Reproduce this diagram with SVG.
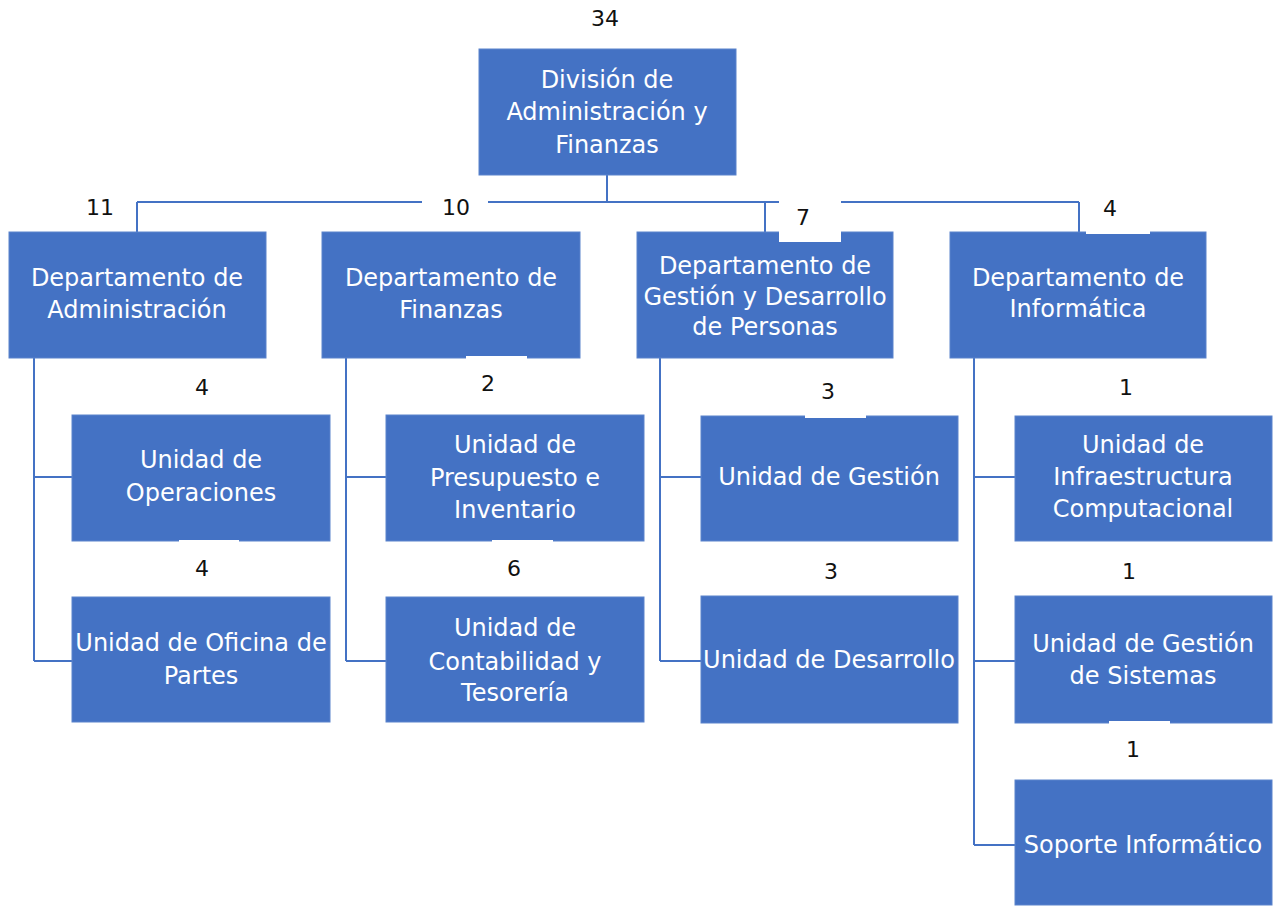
<svg xmlns="http://www.w3.org/2000/svg" width="1277" height="908" viewBox="0 0 1277 908">
<style>
.box{fill:#4472C4;stroke:#5b83cc;stroke-width:1}
.t{font-family:"DejaVu Sans",sans-serif;font-size:24px;fill:#ffffff;text-anchor:middle}
.n{font-family:"DejaVu Sans",sans-serif;font-size:22px;fill:#111111;text-anchor:middle}
.ln{fill:none;stroke:#4472C4;stroke-width:2}
.bg{fill:#ffffff}
</style>
<rect width="1277" height="908" fill="#ffffff"/>
<g id="connectors">
<path class="ln" d="M607,175 V202 M137,202 H1079 M137,202 V232 M765,202 V232 M1079,202 V232"/>
<path class="ln" d="M34,358 V661 M34,477 H72 M34,661 H72"/>
<path class="ln" d="M346,358 V661 M346,477 H386 M346,661 H386"/>
<path class="ln" d="M660,358 V661 M660,477 H701 M660,661 H701"/>
<path class="ln" d="M974,358 V845 M974,477 H1015 M974,661 H1015 M974,845 H1015"/>
</g>
<g id="div">
<rect class="box" x="479" y="49" width="257" height="126"/>
<text class="t" x="607" y="88">División de</text>
<text class="t" x="607" y="120">Administración y</text>
<text class="t" x="607" y="153">Finanzas</text>
</g>
<g id="dep-admin">
<rect class="box" x="9" y="232" width="257" height="126"/>
<text class="t" x="137" y="286">Departamento de</text>
<text class="t" x="137" y="318">Administración</text>
</g>
<g id="dep-fin">
<rect class="box" x="322" y="232" width="258" height="126"/>
<text class="t" x="451" y="286">Departamento de</text>
<text class="t" x="451" y="318">Finanzas</text>
</g>
<g id="dep-gdp">
<rect class="box" x="637" y="232" width="256" height="126"/>
<text class="t" x="765" y="274">Departamento de</text>
<text class="t" x="765" y="305">Gestión y Desarrollo</text>
<text class="t" x="765" y="335">de Personas</text>
</g>
<g id="dep-inf">
<rect class="box" x="950" y="232" width="256" height="126"/>
<text class="t" x="1078" y="286">Departamento de</text>
<text class="t" x="1078" y="317">Informática</text>
</g>
<g id="u-oper">
<rect class="box" x="72" y="415" width="258" height="126"/>
<text class="t" x="201" y="468">Unidad de</text>
<text class="t" x="201" y="501">Operaciones</text>
</g>
<g id="u-ofi">
<rect class="box" x="72" y="597" width="258" height="125"/>
<text class="t" x="201" y="651">Unidad de Oficina de</text>
<text class="t" x="201" y="684">Partes</text>
</g>
<g id="u-pres">
<rect class="box" x="386" y="415" width="258" height="126"/>
<text class="t" x="515" y="453">Unidad de</text>
<text class="t" x="515" y="486">Presupuesto e</text>
<text class="t" x="515" y="518">Inventario</text>
</g>
<g id="u-cont">
<rect class="box" x="386" y="597" width="258" height="125"/>
<text class="t" x="515" y="636">Unidad de</text>
<text class="t" x="515" y="670">Contabilidad y</text>
<text class="t" x="515" y="701">Tesorería</text>
</g>
<g id="u-gest">
<rect class="box" x="701" y="416" width="257" height="125"/>
<text class="t" x="829" y="485">Unidad de Gestión</text>
</g>
<g id="u-desa">
<rect class="box" x="701" y="596" width="257" height="127"/>
<text class="t" x="829" y="668">Unidad de Desarrollo</text>
</g>
<g id="u-infra">
<rect class="box" x="1015" y="416" width="257" height="125"/>
<text class="t" x="1143" y="453">Unidad de</text>
<text class="t" x="1143" y="485">Infraestructura</text>
<text class="t" x="1143" y="517">Computacional</text>
</g>
<g id="u-sist">
<rect class="box" x="1015" y="596" width="257" height="127"/>
<text class="t" x="1143" y="652">Unidad de Gestión</text>
<text class="t" x="1143" y="684">de Sistemas</text>
</g>
<g id="u-sop">
<rect class="box" x="1015" y="780" width="257" height="125"/>
<text class="t" x="1143" y="853">Soporte Informático</text>
</g>
<g id="labels">
<rect class="bg" x="422" y="190" width="66" height="38"/>
<rect class="bg" x="779" y="190" width="62" height="52"/>
<rect class="bg" x="1086" y="190" width="64" height="44"/>
<rect class="bg" x="466" y="356" width="61" height="50"/>
<rect class="bg" x="179" y="540" width="60" height="50"/>
<rect class="bg" x="492" y="540" width="61" height="50"/>
<rect class="bg" x="805" y="368" width="61" height="50"/>
<rect class="bg" x="1109" y="721" width="61" height="50"/>
<text class="n" x="605" y="26">34</text>
<text class="n" x="100" y="215">11</text>
<text class="n" x="456" y="215">10</text>
<text class="n" x="803" y="225">7</text>
<text class="n" x="1110" y="216">4</text>
<text class="n" x="202" y="395">4</text>
<text class="n" x="488" y="391">2</text>
<text class="n" x="828" y="399">3</text>
<text class="n" x="1126" y="395">1</text>
<text class="n" x="202" y="576">4</text>
<text class="n" x="514" y="576">6</text>
<text class="n" x="831" y="579">3</text>
<text class="n" x="1129" y="579">1</text>
<text class="n" x="1133" y="757">1</text>
</g>
</svg>
